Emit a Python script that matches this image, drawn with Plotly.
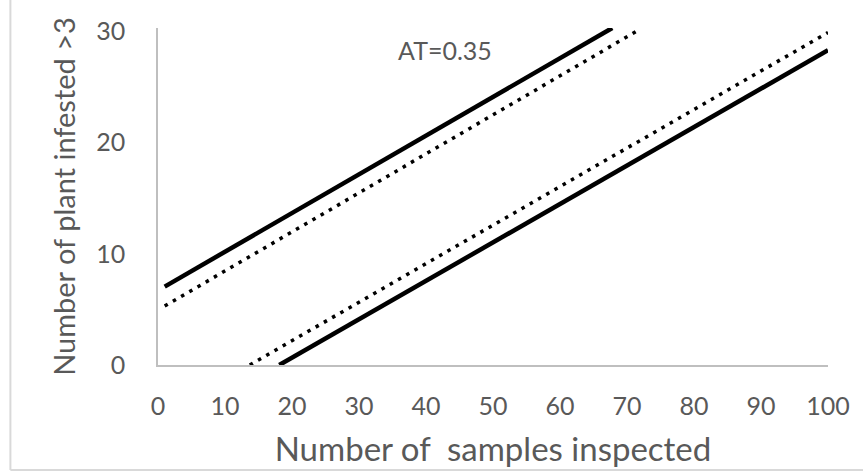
import plotly.graph_objects as go

# Data (line endpoints)
upper_solid_x = [1, 67.8]
upper_solid_y = [7.05, 30.3]
upper_dot_x = [1, 71.4]
upper_dot_y = [5.3, 30.0]
lower_dot_x = [13.7, 100]
lower_dot_y = [0, 29.9]
lower_solid_x = [18.1, 100]
lower_solid_y = [0, 28.3]

x_ticks = [0, 10, 20, 30, 40, 50, 60, 70, 80, 90, 100]
y_ticks = [0, 10, 20, 30]

FONT = "Lato"
GREY = "#595959"

fig = go.Figure()
fig.add_trace(go.Scatter(x=upper_solid_x, y=upper_solid_y, mode="lines",
                         line=dict(color="black", width=4.5), cliponaxis=False))
fig.add_trace(go.Scatter(x=upper_dot_x, y=upper_dot_y, mode="lines",
                         line=dict(color="black", width=3.5, dash="3.5px,6px")))
fig.add_trace(go.Scatter(x=lower_dot_x, y=lower_dot_y, mode="lines",
                         line=dict(color="black", width=3.5, dash="3.5px,6px")))
fig.add_trace(go.Scatter(x=lower_solid_x, y=lower_solid_y, mode="lines",
                         line=dict(color="black", width=4.5)))

fig.add_annotation(x=42.8, y=28.3, text="AT=0.35", showarrow=False,
                   font=dict(family=FONT, size=25, color=GREY))

# outer chart border (left and bottom edges visible)
fig.add_shape(type="line", xref="paper", yref="paper", x0=-0.2203, x1=-0.2203,
              y0=-0.3116, y1=1.09, line=dict(color="#D9D9D9", width=2))
fig.add_shape(type="line", xref="paper", yref="paper", x0=-0.2203, x1=1.06,
              y0=-0.3116, y1=-0.3116, line=dict(color="#D9D9D9", width=2))

fig.update_layout(
    width=863, height=472,
    margin=dict(l=158, r=35, t=28, b=107),
    paper_bgcolor="white", plot_bgcolor="white",
    showlegend=False,
    font=dict(family=FONT, color=GREY),
)
fig.update_xaxes(range=[0, 100], tickvals=x_ticks, showgrid=False, zeroline=False,
                 showline=True, linecolor="#BFBFBF", linewidth=1.5, ticks="",
                 automargin=False,
                 tickfont=dict(family=FONT, size=25, color=GREY),
                 ticklabelstandoff=18,
                 title=dict(text="Number of  samples inspected", standoff=19,
                            font=dict(family=FONT, size=33, color=GREY)))
fig.update_yaxes(range=[0, 30.3], tickvals=y_ticks, showgrid=False, zeroline=False,
                 showline=True, linecolor="#BFBFBF", linewidth=1.5, ticks="",
                 automargin=False,
                 tickfont=dict(family=FONT, size=25, color=GREY),
                 ticklabelstandoff=26,
                 title=dict(text="Number of plant infested >3", standoff=12,
                            font=dict(family=FONT, size=29, color=GREY)))

fig.write_html("out.html", config={"displayModeBar": False},
               post_script="document.body.style.margin='0';")
